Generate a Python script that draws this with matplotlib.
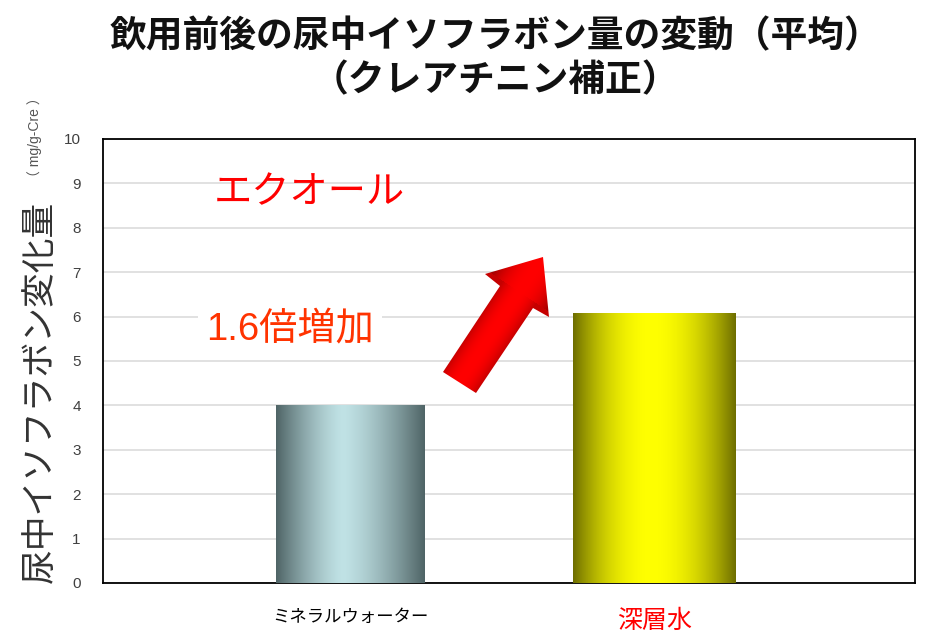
import numpy as np
import matplotlib
matplotlib.use('Agg')
import matplotlib.pyplot as plt
from matplotlib.patches import Polygon
from matplotlib.colors import to_rgb

categories = ['ミネラルウォーター', '深層水']
values = [4.0, 6.07]
cat_colors = ['#000000', '#ff0000']
yticks = list(range(0, 11))
title1 = '飲用前後の尿中イソフラボン量の変動（平均）'
title2 = '（クレアチニン補正）'
ylabel = '尿中イソフラボン変化量'
unit = '（ mg/g-Cre ）'
note_top = 'エクオール'
note_ratio = '1.6倍増加'

plt.rcParams['font.family'] = ['Noto Sans CJK JP', 'DejaVu Sans']

W, H = 940, 636
fig = plt.figure(figsize=(W / 100, H / 100), dpi=100)
ax = fig.add_axes([103 / W, 1 - 583 / H, 812 / W, 444 / H])

xpos = np.arange(len(categories))
widths = [0.486, 0.535]
bars = ax.bar(xpos, values, width=widths, color='none', edgecolor='none', zorder=3)


def grad_img(edge, center, peak, p, n=256):
    t = np.linspace(0, 1, n)
    d = np.where(t < peak, (peak - t) / peak, (t - peak) / (1 - peak))
    d = d ** p
    e = np.array(to_rgb(edge))
    c = np.array(to_rgb(center))
    cols = c[None, :] * (1 - d[:, None]) + e[None, :] * d[:, None]
    return cols[None, :, :]


grads = [grad_img('#4f6466', '#c0e2e5', 0.45, 1.4),
         grad_img('#6e6e00', '#ffff00', 0.48, 2.0)]
for b, g in zip(bars, grads):
    x0 = b.get_x()
    x1 = x0 + b.get_width()
    im = ax.imshow(g, extent=[x0, x1, 0, b.get_height()], aspect='auto',
                   zorder=3, interpolation='bilinear')
    im.set_clip_path(b)

ax.set_xlim(-0.811, 1.855)
ax.set_ylim(0, 10)
ax.set_yticks(yticks)
ax.set_yticklabels([str(v) for v in yticks], fontfamily='Liberation Sans')
ax.tick_params(axis='y', length=0, pad=16, labelsize=11, labelcolor='#404040')
ax.set_xticks(xpos)
ax.set_xticklabels(categories)
ax.tick_params(axis='x', length=0, pad=18)
xl = ax.get_xticklabels()
xl[0].set_fontsize(12.5)
xl[1].set_fontsize(18)
for lbl, c in zip(xl, cat_colors):
    lbl.set_color(c)

ax.yaxis.grid(True, color='#d8d8d8', linewidth=1.1, zorder=0)
ax.set_axisbelow(True)
for s in ax.spines.values():
    s.set_color('#000000')
    s.set_linewidth(1.3)

# titles
fig.text(0.527, 1 - 37 / H, title1, ha='center', va='center', fontsize=26.5,
         color='#111111', fontweight='bold')
fig.text(0.527, 1 - 81 / H, title2, ha='center', va='center', fontsize=26.5,
         color='#111111', fontweight='bold')

# y label and unit
fig.text(40 / W, 1 - 392 / H, ylabel, rotation=90, ha='center', va='center', fontsize=25, color='#333333')
fig.text(35 / W, 1 - 137 / H, unit, rotation=90, ha='center', va='center', fontsize=10,
         color='#555555', family=['Liberation Sans', 'Noto Sans CJK JP'])

# annotations
ax.text(-0.135, 8.8, note_top, ha='center', va='center', fontsize=27.5, color='#ff0000', zorder=5)
ax.text(-0.197, 5.7, note_ratio, ha='center', va='center', fontsize=27.5, color='#ff3300', zorder=5,
        family=['Liberation Sans', 'Noto Sans CJK JP'],
        bbox=dict(boxstyle='square,pad=0.22', facecolor='white', edgecolor='none'))

# arrow overlay in pixel space
ov = fig.add_axes([0, 0, 1, 1], facecolor='none')
ov.set_xlim(0, W)
ov.set_ylim(H, 0)
ov.axis('off')
pts = np.array([(443, 372), (500, 286), (485, 274), (543, 257), (549, 317), (533, 308), (476, 393)], float)
poly = Polygon(pts, closed=True, facecolor='none', edgecolor='none')
ov.add_patch(poly)
tail = np.array([459.5, 382.5])
tip = np.array([543.0, 257.0])
u = (tip - tail) / np.linalg.norm(tip - tail)
nrm = np.array([-u[1], u[0]])
xs = np.arange(430, 560)
ys = np.arange(250, 400)
XX, YY = np.meshgrid(xs + 0.5, ys + 0.5)
rel_x = XX - tail[0]
rel_y = YY - tail[1]
along = rel_x * u[0] + rel_y * u[1]
perp = rel_x * nrm[0] + rel_y * nrm[1]
L = np.linalg.norm(tip - tail)
halfw = np.where(along < 0.72 * L, 20.0, 36.0)
d = np.clip(np.abs(perp) / halfw, 0, 1)
dark = np.clip(d ** 2.2 * np.where(along < 0.72 * L, 0.45, 0.85), 0, 1)
r = 1.0 - 0.5 * dark
img = np.zeros(XX.shape + (3,))
img[..., 0] = r
im = ov.imshow(img, extent=[xs[0], xs[-1] + 1, ys[-1] + 1, ys[0]], interpolation='bilinear', zorder=6)
im.set_clip_path(poly)
ov.set_xlim(0, W)
ov.set_ylim(H, 0)

fig.savefig('out.png', dpi=100)
